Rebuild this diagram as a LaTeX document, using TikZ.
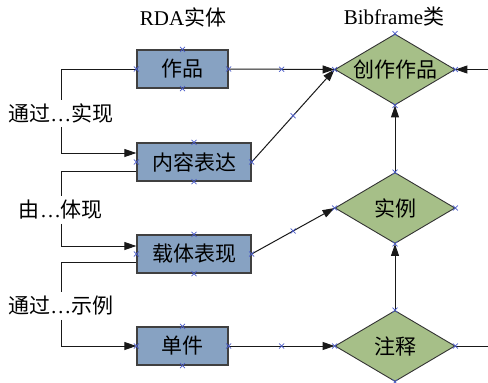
\documentclass[tikz,border=0pt]{standalone}
\usepackage{fontspec}
\setmainfont{Liberation Serif}
\newfontfamily\cjk{Noto Sans CJK SC}
\usetikzlibrary{shapes.geometric,arrows.meta,calc}
\definecolor{boxblue}{HTML}{87A2C2}
\definecolor{dgreen}{HTML}{A6BF88}
\definecolor{mkblue}{HTML}{4A5CC8}
\newcommand\cpmark[1]{\draw[crossmk] (#1) ++(-2.5pt,-2.5pt) -- ++(5pt,5pt) ++(-5pt,0pt) -- ++(5pt,-5pt);}
\begin{document}
\begin{tikzpicture}[x=1pt,y=-1pt,
  font=\fontsize{21}{25}\selectfont\cjk,
  ent/.style={draw=black!75, line width=1.3pt, fill=boxblue, minimum height=38pt, inner sep=0pt},
  cls/.style={diamond, draw=black!80, line width=0.9pt, fill=dgreen, minimum width=120pt, minimum height=71pt, inner sep=0pt, aspect=1.7},
  lnk/.style={line width=1pt, draw=black!90},
  arr/.style={lnk, -{Triangle[length=12pt,width=8pt]}},
  lbl/.style={inner xsep=0pt, inner ysep=4pt},
  crossmk/.style={draw=mkblue, line width=0.7pt}]
\useasboundingbox (0,0) rectangle (488,383);

\node (t1) at (183,17) {{\rmfamily RDA}实体};
\node (t2) at (394,17) {{\rmfamily Bibframe}类};

\node[ent, minimum width=91pt] (w) at (182.5,69) {作品};
\node[ent, minimum width=114pt] (e) at (194,162) {内容表达};
\node[ent, minimum width=114pt] (m) at (194,254) {载体表现};
\node[ent, minimum width=91pt] (i) at (182.5,346) {单件};

\node[cls] (cw) at (395,69.5) {创作作品};
\node[cls] (inst) at (395,208) {实例};
\node[cls] (ann) at (395,346) {注释};

\node[lbl] (l1) at (61,113.5) {通过{\rmfamily …}实现};
\node[lbl] (l2) at (61,210) {由{\rmfamily …}体现};
\node[lbl] (l3) at (61,306) {通过{\rmfamily …}示例};

\coordinate (r1) at (488,69.5);
\coordinate (r2) at (488,346);

\draw[lnk] (w.west) -| (l1.north);
\draw[arr] (l1.south) |- ($(e.west)+(0,-9)$);
\draw[lnk] ($(e.west)+(0,9)$) -| (l2.north);
\draw[arr] (l2.south) |- ($(m.west)+(0,-8)$);
\draw[lnk] ($(m.west)+(0,8)$) -| (l3.north);
\draw[arr] (l3.south) |- (i.west);

\draw[arr] (w.east) -- (cw.west);
\draw[arr] (e.east) -- (cw.west);
\draw[arr] (m.east) -- (inst.west);
\draw[arr] (i.east) -- (ann.west);
\draw[arr] (inst.north) -- (cw.south);
\draw[arr] (ann.north) -- (inst.south);
\draw[arr] (r1) -- (cw.east);
\draw[lnk] (ann.east) -- (r2);

\foreach \n in {w,e,m,i,cw,inst,ann}{
  \cpmark{\n.north}\cpmark{\n.south}\cpmark{\n.east}\cpmark{\n.west}
}
\cpmark{$(w.east)!0.5!(cw.west)$}
\cpmark{$(e.east)!0.5!(cw.west)$}
\cpmark{$(m.east)!0.5!(inst.west)$}
\cpmark{$(i.east)!0.5!(ann.west)$}
\end{tikzpicture}
\end{document}
